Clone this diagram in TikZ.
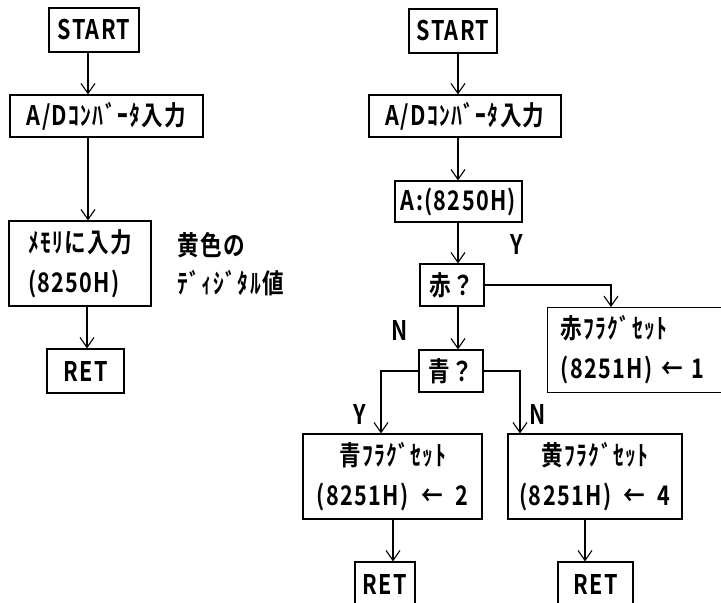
\documentclass[tikz,border=0pt]{standalone}
\usepackage{fontspec}
\setmainfont{Noto Sans CJK JP}[FakeStretch=0.8, LetterSpace=5, BoldFont={* Bold}]
\usetikzlibrary{arrows.meta}
\tikzset{
  box/.style={draw, line width=1.2pt, inner sep=0pt, font=\fontsize{27}{40}\selectfont\bfseries},
  txt/.style={inner sep=0pt, font=\fontsize{27}{40}\selectfont\bfseries},
  arr/.style={line width=1.1pt, -{Straight Barb[length=10pt,width=14pt,line width=1.1pt]}},
}
\begin{document}
\begin{tikzpicture}[x=1pt,y=-1pt]
\useasboundingbox (0,0) rectangle (721,603);
\clip (0,0) rectangle (721,603);
% left column
\node[box, minimum width=90, minimum height=44] (ls) at (94,30) {START};
\node[box, minimum width=193, minimum height=42] (lad) at (106.5,116) {A/Dｺﾝﾊﾞｰﾀ入力};
\node[box, minimum width=142, minimum height=85, align=left] (lmem) at (80,263.5) {ﾒﾓﾘに入力\\(8250H)};
\node[box, minimum width=77, minimum height=44] (lret) at (85.5,371) {RET};
\node[txt, anchor=west] (t1) at (177,245) {黄色の};
\node[txt, anchor=west] (t2) at (177,283) {ﾃﾞｨｼﾞﾀﾙ値};
\draw[arr] (ls.south -| 88,0) -- (lad.north -| 88,0);
\draw[arr] (lad.south -| 88,0) -- (lmem.north -| 88,0);
\draw[arr] (lmem.south -| 87,0) -- (lret.north -| 87,0);
% right column
\node[box, minimum width=88, minimum height=44] (rs) at (453,31) {START};
\node[box, minimum width=192, minimum height=42] (rad) at (465,116) {A/Dｺﾝﾊﾞｰﾀ入力};
\node[box, minimum width=127, minimum height=41] (ra) at (458.5,201.5) {A:(8250H)};
\node[box, minimum width=64, minimum height=42] (red) at (452,285) {赤？};
\node[box, anchor=north west, text width=170, inner xsep=13, minimum height=85, align=left] (rflag) at (547,307) {赤ﾌﾗｸﾞｾｯﾄ\\(8251H) ← 1};
\node[box, minimum width=64, minimum height=42] (blue) at (451,371) {青？};
\node[box, minimum width=179, minimum height=85, align=center] (bflag) at (392.5,476.5) {青ﾌﾗｸﾞｾｯﾄ\\(8251H) \ ← \ 2};
\node[box, minimum width=174, minimum height=85, align=center] (yflag) at (595,476.5) {黄ﾌﾗｸﾞｾｯﾄ\\(8251H) \ ← \ 4};
\node[box, minimum width=60, minimum height=44] (bret) at (385,584) {RET};
\node[box, minimum width=75, minimum height=44] (yret) at (595.5,584) {RET};
\node[txt] (ly1) at (517,244) {Y};
\node[txt] (ln1) at (400,330) {N};
\node[txt] (ly2) at (360,414) {Y};
\node[txt] (ln2) at (538,414) {N};
\draw[arr] (rs.south -| 458,0) -- (rad.north -| 458,0);
\draw[arr] (rad.south -| 458,0) -- (ra.north -| 458,0);
\draw[arr] (ra.south -| 458,0) -- (red.north -| 458,0);
\draw[arr] (red.east) -| (rflag.north -| 611,0);
\draw[arr] (red.south -| 458,0) -- (blue.north -| 458,0);
\draw[arr] (blue.west) -| (bflag.north -| 381,0);
\draw[arr] (blue.east) -| (yflag.north -| 520,0);
\draw[arr] (bflag.south -| 393,0) -- (bret.north -| 393,0);
\draw[arr] (yflag.south -| 585,0) -- (yret.north -| 585,0);
\end{tikzpicture}
\end{document}
